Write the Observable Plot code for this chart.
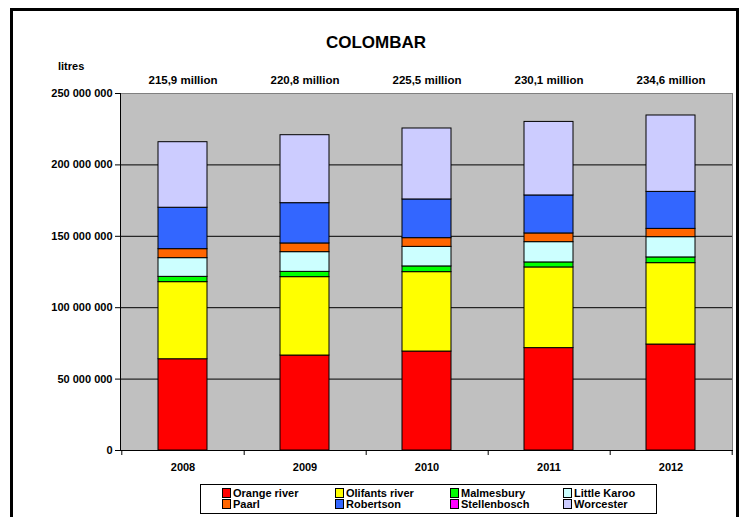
<!DOCTYPE html>
<html><head><meta charset="utf-8">
<script src="https://cdn.jsdelivr.net/npm/d3@7"></script>
<script src="https://cdn.jsdelivr.net/npm/@observablehq/plot@0.6"></script>
<style>
body{margin:0;background:#fff;font-family:"Liberation Sans",Arial,sans-serif;font-weight:bold;}
#wrap{position:relative;width:749px;height:517px;overflow:hidden;background:#fff;}
#border{position:absolute;left:10px;top:8px;width:723px;height:540px;border:3px solid #000;box-sizing:content-box;}
#chart{position:absolute;left:0;top:0;}
#title{position:absolute;left:0;width:752px;top:33px;text-align:center;font-size:17px;line-height:20px;}
#unit{position:absolute;left:58px;top:60px;font-size:11px;}
#legend{position:absolute;left:200px;top:484px;width:455px;height:28px;border:1px solid #000;background:#fff;}
.li{position:absolute;font-size:11px;line-height:11px;white-space:nowrap;}
.sw{display:inline-block;width:7px;height:8px;border:1px solid #000;margin-right:2px;vertical-align:-1px;}
</style></head>
<body>
<div id="wrap">
  <div id="border"></div>
  <div id="chart"></div>
  <div id="title">COLOMBAR</div>
  <div id="unit">litres</div>
  <div id="legend"></div>
</div>
<script>
const years = ["2008", "2009", "2010", "2011", "2012"];
const regions = ["Orange river", "Olifants river", "Malmesbury", "Little Karoo", "Paarl", "Robertson", "Stellenbosch", "Worcester"];
const colors = ["#FF0000", "#FFFF00", "#00FF00", "#CCFFFF", "#FF6600", "#3366FF", "#FF00FF", "#CCCCFF"];
// values in million litres
const orangeRiver = [63.9, 66.5, 69.3, 71.7, 74.2];
const olifantsRiver = [54.0, 54.9, 55.6, 56.5, 57.0];
const malmesbury = [3.7, 3.7, 4.0, 3.5, 4.0];
const littleKaroo = [13.1, 13.8, 13.7, 14.2, 14.2];
const paarl = [6.3, 6.1, 6.1, 6.1, 5.8];
const robertson = [29.0, 28.2, 27.1, 26.6, 25.9];
const stellenbosch = [0, 0, 0, 0, 0];
const worcester = [45.9, 47.6, 49.7, 51.5, 53.5];
const totalLabels = ["215,9 million", "220,8 million", "225,5 million", "230,1 million", "234,6 million"];
const yTicks = [0, 50e6, 100e6, 150e6, 200e6, 250e6];
const gridTicks = [50e6, 100e6, 150e6, 200e6];

const series = [orangeRiver, olifantsRiver, malmesbury, littleKaroo, paarl, robertson, stellenbosch, worcester];
const table = [];
regions.forEach((r, i) => years.forEach((y, j) => table.push({year: y, region: r, value: series[i][j] * 1e6})));
const totals = years.map((y, j) => ({year: y, label: totalLabels[j]}));

const W = 749, H = 517, mL = 120, mR = 17, mT = 93, mB = 67;
const half = (W - mL - mR) / years.length / 2;
const fmt = d => d3.format(",")(d).replace(/,/g, " ");

const chart = Plot.plot({
  width: W, height: H,
  marginLeft: mL, marginRight: mR, marginTop: mT, marginBottom: mB,
  style: {fontFamily: "'Liberation Sans', Arial, sans-serif", fontSize: "11px", fontWeight: "bold", background: "transparent", color: "#000"},
  x: {domain: years, paddingInner: 0.6, paddingOuter: 0.3, label: null},
  y: {domain: [0, 250e6], label: null},
  color: {domain: regions, range: colors},
  marks: [
    Plot.frame({fill: "#C0C0C0", stroke: "#808080"}),
    Plot.ruleY(gridTicks, {stroke: "#000", strokeWidth: 1}),
    Plot.barY(table, {x: "year", y: "value", fill: "region", stroke: "#000", strokeWidth: 1}),
    Plot.frame({anchor: "left", stroke: "#000"}),
    Plot.frame({anchor: "bottom", stroke: "#000"}),
    Plot.axisY({ticks: yTicks, tickFormat: fmt, tickSize: 5, tickPadding: 3, label: null, fontWeight: "bold", fontSize: 11}),
    Plot.axisX({tickSize: 0, tickPadding: 13, label: null, fontWeight: "bold", fontSize: 11}),
    Plot.axisX({tickSize: 5, tickFormat: () => "", dx: half, label: null}),
    Plot.axisX({ticks: [years[0]], tickSize: 5, tickFormat: () => "", dx: -half, label: null}),
    Plot.text(totals, {x: "year", text: "label", frameAnchor: "top", dy: -18, fontWeight: "bold", fontSize: 11.5})
  ]
});
document.getElementById("chart").appendChild(chart);

const leg = document.getElementById("legend");
const colX = [21, 134, 249, 362];
regions.forEach((r, i) => {
  const d = document.createElement("div");
  d.className = "li";
  d.style.left = colX[i % 4] + "px";
  d.style.top = (i < 4 ? 3 : 14) + "px";
  d.innerHTML = `<span class="sw" style="background:${colors[i]}"></span>${r}`;
  leg.appendChild(d);
});
</script>
</body></html>
